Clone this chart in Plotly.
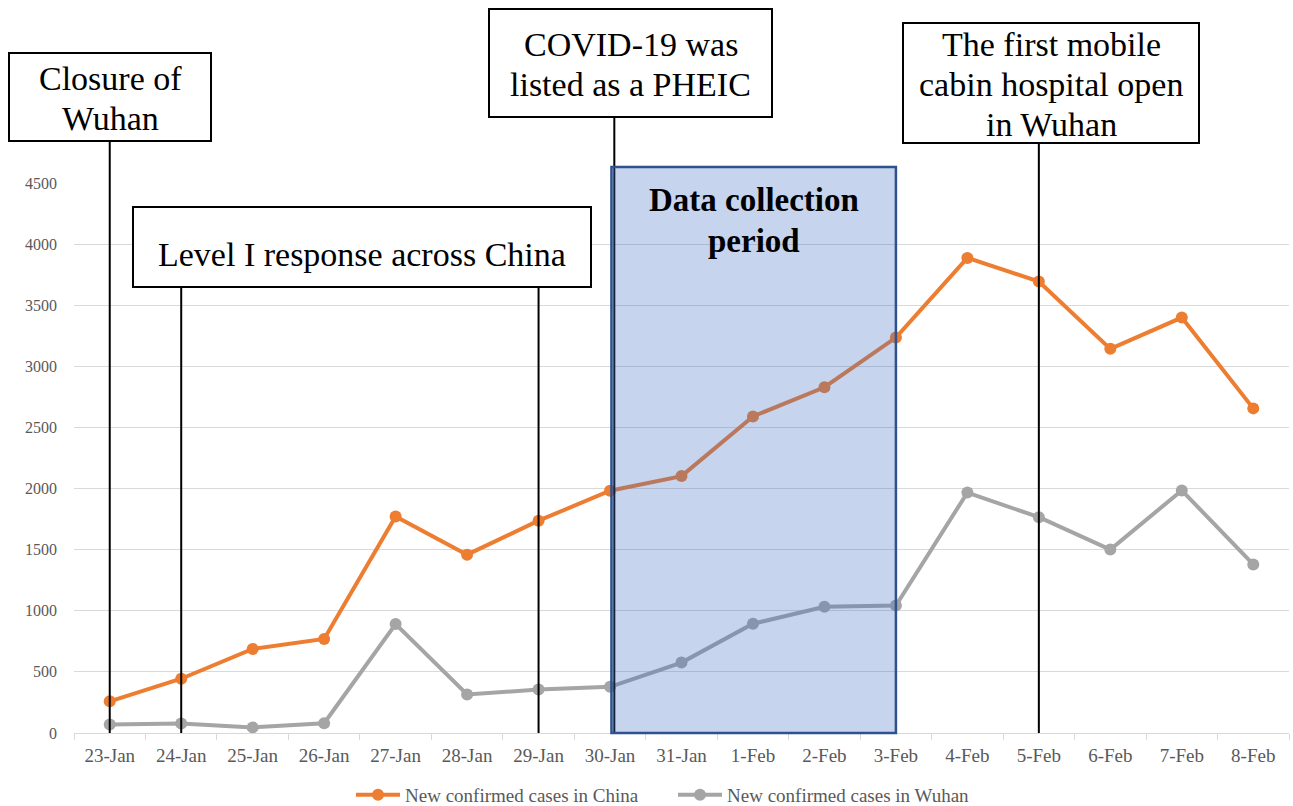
import plotly.graph_objects as go

# Daily figures, 23 Jan - 8 Feb 2020
dates = ["23-Jan", "24-Jan", "25-Jan", "26-Jan", "27-Jan", "28-Jan", "29-Jan", "30-Jan",
         "31-Jan", "1-Feb", "2-Feb", "3-Feb", "4-Feb", "5-Feb", "6-Feb", "7-Feb", "8-Feb"]
china_new = [259, 444, 688, 769, 1771, 1459, 1737, 1982, 2102, 2590, 2829, 3235,
             3887, 3694, 3143, 3399, 2656]
wuhan_new = [70, 77, 46, 80, 892, 315, 356, 378, 576, 894, 1033, 1043,
             1967, 1766, 1501, 1985, 1379]
y_ticks = [0, 500, 1000, 1500, 2000, 2500, 3000, 3500, 4000, 4500]

SERIF = "Liberation Serif, Times New Roman, serif"
ORANGE = "#ED7D31"
GREY = "#A5A5A5"

# plot area geometry (pixels) used to place the callout boxes in paper units
W, H = 1293, 806
M_L, M_R, M_T, M_B = 74, 4, 183, 73
PW, PH = W - M_L - M_R, H - M_T - M_B


def px(x):
    return (x - M_L) / PW


def py(y):
    return (H - M_B - y) / PH


fig = go.Figure()
fig.add_trace(go.Scatter(
    x=dates, y=china_new, name="New confirmed cases in China", mode="lines+markers",
    line=dict(color=ORANGE, width=4), marker=dict(color=ORANGE, size=12)))
fig.add_trace(go.Scatter(
    x=dates, y=wuhan_new, name="New confirmed cases in Wuhan", mode="lines+markers",
    line=dict(color=GREY, width=4), marker=dict(color=GREY, size=12)))

shapes = []
annotations = []


def text_line(xp, yp, label, size=34, bold=False, xref="paper"):
    annotations.append(dict(
        xref=xref, yref="paper", x=xp, y=py(yp), xanchor="center", yanchor="middle",
        showarrow=False, text=f"<b>{label}</b>" if bold else label,
        font=dict(family=SERIF, size=size, color="black")))


# vertical event markers: (date index, top of line in pixels)
events = [(0, 141), (1, 287), (6, 287), (7.06, 117), (13, 143)]
for xi, top in events:
    shapes.append(dict(type="line", xref="x", yref="paper", x0=xi, x1=xi,
                       y0=0, y1=py(top), line=dict(color="black", width=2), layer="above"))

# data collection window
shapes.append(dict(type="rect", xref="x", yref="paper", x0=7.02, x1=11, y0=0, y1=py(167),
                   fillcolor="rgba(68,114,196,0.3)", line=dict(color="#2F528F", width=2.5),
                   layer="above"))
text_line(9.02, 200, "Data collection", size=33, bold=True, xref="x")
text_line(9.02, 241, "period", size=33, bold=True, xref="x")

# callout boxes: (left, top, right, bottom) in pixels, text lines with centre heights
boxes = [
    ((9, 53, 211, 141), [("Closure of", 78), ("Wuhan", 119)]),
    ((133, 207, 591, 287), [("Level I response across China", 254)]),
    ((489, 9, 772, 117), [("COVID-19 was", 44), ("listed as a PHEIC", 84)]),
    ((903, 23, 1199, 143), [("The first mobile", 44), ("cabin hospital open", 84),
                            ("in Wuhan", 124)]),
]
for (x0, y0, x1, y1), lines in boxes:
    shapes.append(dict(type="rect", xref="paper", yref="paper",
                       x0=px(x0), x1=px(x1), y0=py(y1), y1=py(y0),
                       fillcolor="white", line=dict(color="black", width=2), layer="above"))
    for label, yc in lines:
        text_line(px((x0 + x1) / 2), yc, label)

fig.update_layout(
    width=W, height=H,
    margin=dict(l=M_L, r=M_R, t=M_T, b=M_B, pad=0, autoexpand=False),
    paper_bgcolor="white", plot_bgcolor="white",
    font=dict(family=SERIF, size=16, color="#595959"),
    shapes=shapes, annotations=annotations,
    showlegend=True,
    legend=dict(orientation="h", x=(663 + 10) / W, xanchor="center", xref="container",
                y=(H - 795) / H, yanchor="middle", yref="container",
                font=dict(family=SERIF, size=19, color="#595959"),
                itemwidth=44, tracegroupgap=0, entrywidth=263, entrywidthmode="pixels"),
    xaxis=dict(type="category", range=[-0.5, 16.5], showgrid=False, showline=True,
               linecolor="#D9D9D9", linewidth=1, ticks="outside", tickson="boundaries",
               ticklen=6, tickcolor="#D9D9D9", tickfont=dict(size=19, color="#595959"),
               ticklabelstandoff=5, zeroline=False, fixedrange=True),
    yaxis=dict(range=[0, 4500], tickvals=y_ticks, showgrid=True, gridcolor="#D9D9D9",
               gridwidth=1, zeroline=False, showline=False, ticks="",
               tickfont=dict(size=16, color="#595959"), ticklabelstandoff=16),
)

fig.write_html("out.html")
